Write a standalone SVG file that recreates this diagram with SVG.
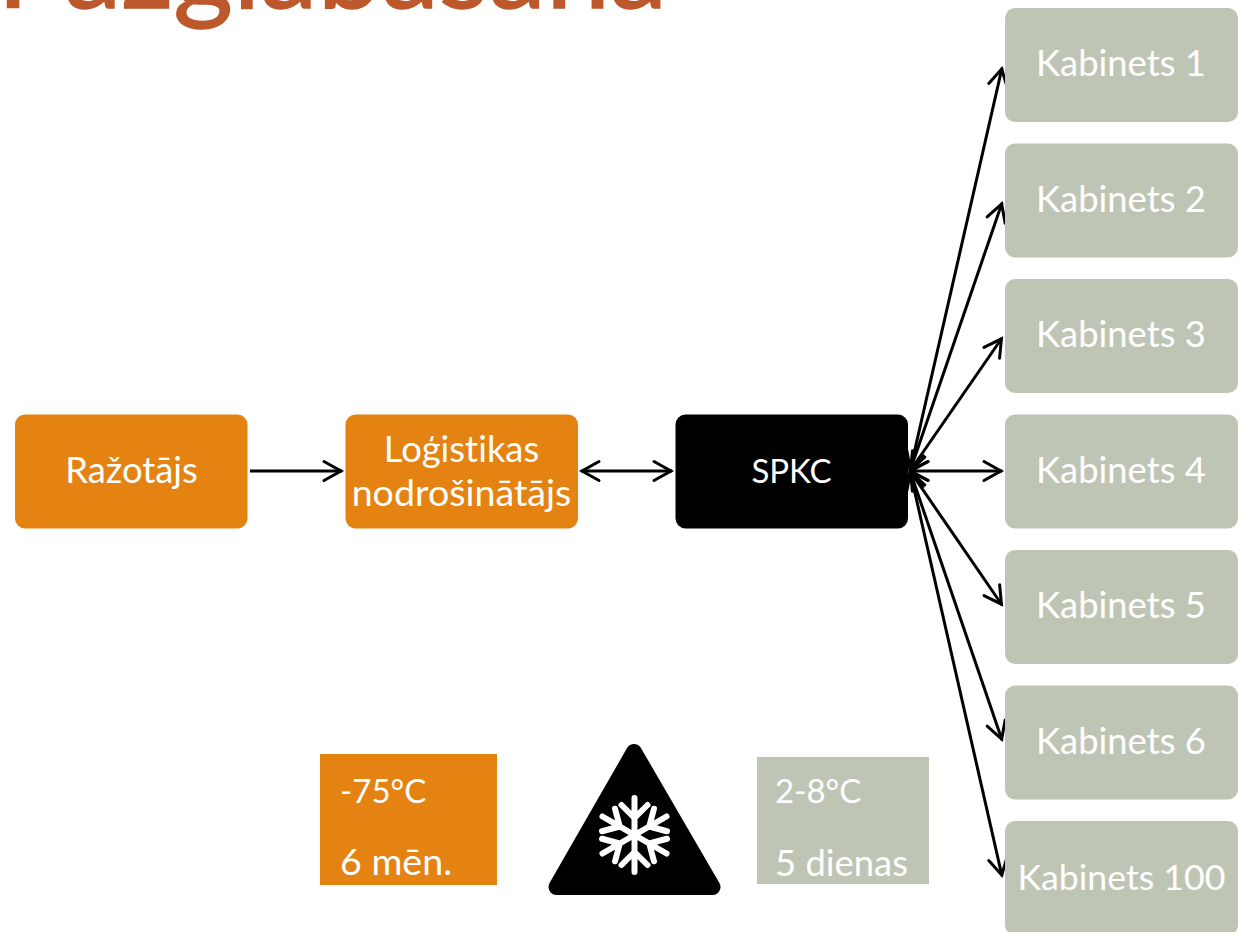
<svg xmlns="http://www.w3.org/2000/svg" xmlns:xlink="http://www.w3.org/1999/xlink" width="1248" height="932" viewBox="0 0 1248 932">
<style>
text{font-family:"Lato","Liberation Sans",sans-serif;font-size:36.400px;fill:#fff;font-variant-ligatures:none}
.c{text-anchor:middle}
.o{fill:#E48312}.g{fill:#BFC5B5}.k{fill:#000}
.l{stroke:#000;stroke-width:3;fill:none;marker-end:url(#a)}
.d{marker-start:url(#a)}
.t{font-size:115px;fill:#BD582C;stroke:#BD582C;stroke-width:1.500px}
.s{stroke:#fff;stroke-width:6;stroke-linecap:round;stroke-linejoin:round;fill:none}
.n{font-size:33px}
.w{font-size:37.600px}
</style>
<defs>
<marker id="a" markerUnits="userSpaceOnUse" markerWidth="30" markerHeight="30" refX="21" refY="12" orient="auto-start-reverse" viewBox="0 0 30 24">
<path d="M3 2.500L20 12L3 21.500" fill="none" stroke="#000" stroke-width="3" stroke-linecap="round" stroke-linejoin="miter"/>
</marker>
<g id="arm"><path d="M0 0V-37M-13 -30L0 -17L13 -30"/></g>
</defs>
<text id="title" class="t" x="-3" y="8">Pazglabāšana</text>
<g id="connectors">
<line class="l" x1="250" y1="471" x2="342" y2="471"/>
<line class="l d" x1="581" y1="471" x2="672" y2="471"/>
<line class="l d" x1="910" y1="471" x2="1002" y2="68"/>
<line class="l d" x1="910" y1="471" x2="1002" y2="203"/>
<line class="l d" x1="910" y1="471" x2="1002" y2="338"/>
<line class="l d" x1="910" y1="471" x2="1002" y2="471"/>
<line class="l d" x1="910" y1="471" x2="1002" y2="605"/>
<line class="l d" x1="910" y1="471" x2="1002" y2="740"/>
<line class="l d" x1="910" y1="471" x2="1002" y2="876"/>
</g>
<g id="razotajs"><rect class="o" x="15" y="414.500" width="232.500" height="114" rx="10"/><text class="c" x="131.500" y="483">Ražotājs</text></g>
<g id="logistikas"><rect class="o" x="345.500" y="414.500" width="232.500" height="114" rx="10"/><text class="c" x="461.500" y="462">Loģistikas</text><text class="c w" x="461.500" y="506">nodrošinātājs</text></g>
<g id="spkc"><rect class="k" x="675.500" y="414.500" width="232.500" height="114" rx="10"/><text class="c n" x="791.500" y="483">SPKC</text></g>
<g id="k1"><rect class="g" x="1005" y="8" width="233" height="114" rx="10"/><text class="c" x="1121" y="76">Kabinets 1</text></g>
<g id="k2"><rect class="g" x="1005" y="143.500" width="233" height="114" rx="10"/><text class="c" x="1121" y="212">Kabinets 2</text></g>
<g id="k3"><rect class="g" x="1005" y="279" width="233" height="114" rx="10"/><text class="c" x="1121" y="347">Kabinets 3</text></g>
<g id="k4"><rect class="g" x="1005" y="414.500" width="233" height="114" rx="10"/><text class="c" x="1121" y="483">Kabinets 4</text></g>
<g id="k5"><rect class="g" x="1005" y="550" width="233" height="114" rx="10"/><text class="c" x="1121" y="618">Kabinets 5</text></g>
<g id="k6"><rect class="g" x="1005" y="685.500" width="233" height="114" rx="10"/><text class="c" x="1121" y="754">Kabinets 6</text></g>
<g id="k100"><rect class="g" x="1005" y="821" width="233" height="114" rx="10"/><text class="c" x="1121.500" y="890" style="font-size:35.700px">Kabinets 100</text></g>
<g id="legend-orange"><rect class="o" x="320" y="754" width="177" height="131"/><text class="n" x="340" y="803">-75°C</text><text class="w" x="340" y="875">6 mēn.</text></g>
<g id="warning"><path class="k" stroke="#000" stroke-width="16" stroke-linejoin="round" d="M634 752L712.500 887H556.500Z"/>
<g class="s" transform="translate(634.500 835)"><use xlink:href="#arm"/><use xlink:href="#arm" transform="rotate(60)"/><use xlink:href="#arm" transform="rotate(120)"/><use xlink:href="#arm" transform="rotate(180)"/><use xlink:href="#arm" transform="rotate(240)"/><use xlink:href="#arm" transform="rotate(300)"/></g></g>
<g id="legend-grey"><rect class="g" x="757" y="757" width="172" height="127"/><text class="n" x="775" y="803">2-8°C</text><text x="775" y="876">5 dienas</text></g>
</svg>
